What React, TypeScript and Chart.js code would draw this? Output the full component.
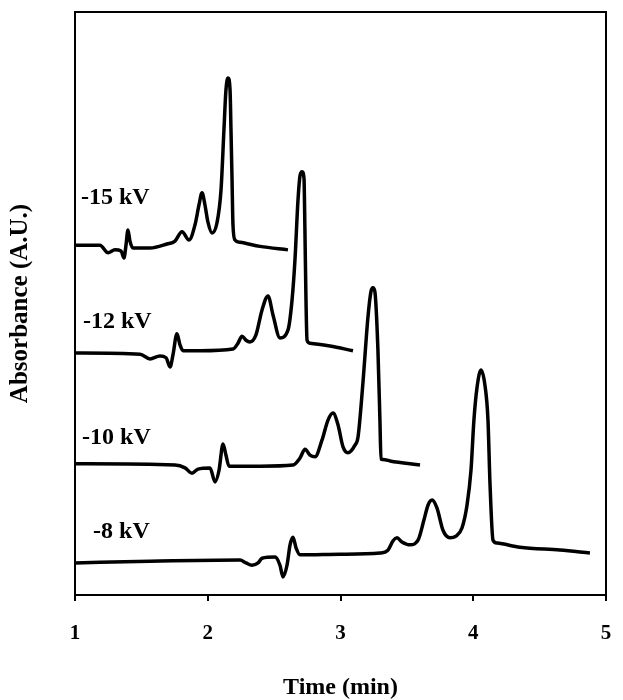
import React, { useEffect, useRef } from "react";
import { Chart, registerables } from "chart.js";

Chart.register(...registerables);

// Time (min) and absorbance (A.U., arbitrary offset units) for each trace
const time15 = [1.0, 1.188, 1.249, 1.301, 1.347, 1.369, 1.384, 1.399, 1.414, 1.437, 1.565, 1.693, 1.753, 1.806, 1.859, 1.904, 1.934, 1.957, 1.979, 2.002, 2.032, 2.07, 2.1, 2.122, 2.137, 2.153, 2.168, 2.175, 2.183, 2.19, 2.205, 2.243, 2.394, 2.604];
const abs15 = [60.0, 60.0, 58.7, 59.2, 59.0, 57.8, 60.0, 62.6, 60.7, 59.5, 59.5, 60.2, 60.7, 62.3, 60.9, 63.5, 66.9, 69.0, 66.9, 63.9, 62.1, 63.9, 69.5, 79.8, 86.6, 88.7, 86.6, 79.8, 71.2, 63.5, 60.9, 60.5, 59.8, 59.2];

const time12 = [1.0, 1.49, 1.565, 1.64, 1.686, 1.716, 1.738, 1.768, 1.791, 1.814, 1.942, 2.19, 2.228, 2.258, 2.288, 2.318, 2.363, 2.409, 2.454, 2.492, 2.544, 2.605, 2.635, 2.657, 2.68, 2.695, 2.71, 2.725, 2.732, 2.74, 2.748, 2.77, 2.921, 3.094];
const abs12 = [41.5, 41.3, 40.5, 41.0, 40.7, 39.1, 41.2, 44.8, 42.9, 41.9, 41.9, 42.2, 43.2, 44.4, 43.7, 43.4, 44.6, 48.9, 51.3, 48.0, 44.1, 45.5, 50.6, 57.5, 67.8, 71.9, 72.6, 71.5, 62.6, 50.6, 43.7, 43.2, 42.7, 41.9];

const time10 = [1.0, 1.753, 1.829, 1.881, 1.927, 2.017, 2.055, 2.085, 2.115, 2.137, 2.16, 2.394, 2.642, 2.695, 2.733, 2.77, 2.808, 2.861, 2.906, 2.944, 2.981, 3.019, 3.056, 3.109, 3.132, 3.169, 3.207, 3.229, 3.244, 3.259, 3.282, 3.297, 3.305, 3.335, 3.373, 3.599];
const abs10 = [22.5, 22.3, 21.8, 20.9, 21.6, 21.8, 19.4, 21.4, 25.9, 24.0, 22.1, 22.1, 22.3, 23.5, 25.0, 24.0, 23.7, 26.6, 30.0, 31.2, 29.2, 25.4, 24.4, 25.7, 27.1, 36.4, 47.7, 52.0, 52.7, 52.0, 42.0, 30.0, 23.3, 23.2, 23.0, 22.3];

const time8 = [1.0, 1.565, 2.243, 2.288, 2.333, 2.379, 2.409, 2.507, 2.544, 2.567, 2.597, 2.62, 2.642, 2.665, 2.695, 2.996, 3.298, 3.358, 3.396, 3.426, 3.463, 3.524, 3.584, 3.629, 3.659, 3.69, 3.727, 3.772, 3.825, 3.87, 3.915, 3.953, 3.983, 4.005, 4.028, 4.058, 4.088, 4.111, 4.126, 4.149, 4.179, 4.352, 4.653, 4.879];
const abs8 = [5.5, 5.8, 6.0, 5.5, 5.1, 5.5, 6.3, 6.5, 5.1, 3.1, 5.1, 8.6, 9.9, 8.1, 6.9, 7.0, 7.2, 7.7, 9.3, 9.8, 9.1, 8.6, 9.4, 12.9, 15.4, 16.3, 14.9, 11.1, 9.8, 10.1, 11.5, 15.4, 21.4, 30.0, 35.5, 38.6, 36.0, 30.0, 19.2, 9.4, 8.9, 8.2, 7.7, 7.2];

const seriesNames = ["-15 kV", "-12 kV", "-10 kV", "-8 kV"];
const seriesTimes = [time15, time12, time10, time8];
const seriesAbs = [abs15, abs12, abs10, abs8];

// label anchor (time, absorbance) for each trace name
const labelTime = [1.045, 1.06, 1.053, 1.136];
const labelAbs = [68.1, 46.8, 26.9, 10.8];

const xTicks = [1, 2, 3, 4, 5];

const FONT = "'Liberation Serif', 'Times New Roman', serif";

const boxPlugin = {
  id: "boxAndLabels",
  afterDatasetsDraw(chart: any) {
    const { ctx, chartArea, scales } = chart;
    ctx.save();
    ctx.strokeStyle = "#000";
    ctx.lineWidth = 2;
    ctx.strokeRect(chartArea.left, chartArea.top, chartArea.right - chartArea.left, chartArea.bottom - chartArea.top);
    ctx.fillStyle = "#000";
    ctx.font = `bold 24px ${FONT}`;
    ctx.textAlign = "left";
    ctx.textBaseline = "middle";
    seriesNames.forEach((name, i) => {
      const x = scales.x.getPixelForValue(labelTime[i]);
      const y = scales.y.getPixelForValue(labelAbs[i]);
      ctx.fillText(name, x, y);
    });
    ctx.restore();
  },
};

export default function App() {
  const ref = useRef<HTMLCanvasElement | null>(null);
  useEffect(() => {
    if (!ref.current) return;
    const datasets = seriesNames.map((name, i) => ({
      label: name,
      data: seriesTimes[i].map((t, j) => ({ x: t, y: seriesAbs[i][j] })),
      borderColor: "#000",
      borderWidth: 3.5,
      pointRadius: 0,
      fill: false,
      cubicInterpolationMode: "monotone" as const,
    }));
    const chart = new Chart(ref.current, {
      type: "line",
      data: { datasets },
      options: {
        animation: false,
        responsive: false,
        maintainAspectRatio: false,
        layout: { padding: { top: 12, right: 17, left: 0, bottom: 0 } },
        plugins: { legend: { display: false }, tooltip: { enabled: false } },
        scales: {
          x: {
            type: "linear",
            min: 1,
            max: 5,
            afterBuildTicks: (scale: any) => {
              scale.ticks = xTicks.map((v) => ({ value: v }));
            },
            afterFit: (scale: any) => {
              scale.height = 105;
              scale.paddingLeft = 0;
              scale.paddingRight = 0;
            },
            ticks: {
              color: "#000",
              font: { family: FONT, size: 21, weight: "bold" },
              padding: 20,
              maxRotation: 0,
            },
            grid: {
              display: true,
              drawOnChartArea: false,
              drawTicks: true,
              tickLength: 6,
              color: "#000",
              lineWidth: 2,
            },
            border: { display: true, color: "#000", width: 2 },
            title: {
              display: true,
              text: "Time (min)",
              color: "#000",
              font: { family: FONT, size: 24, weight: "bold", lineHeight: 1 },
              padding: { top: 0, bottom: 0 },
            },
          },
          y: {
            type: "linear",
            min: 0,
            max: 100,
            afterFit: (scale: any) => {
              scale.width = 75;
              scale.paddingTop = 0;
              scale.paddingBottom = 0;
            },
            ticks: { display: false },
            grid: { display: false },
            border: { display: true, color: "#000", width: 2 },
            title: {
              display: true,
              text: "Absorbance (A.U.)",
              color: "#000",
              font: { family: FONT, size: 25, weight: "bold", lineHeight: 1 },
              padding: { top: 8, bottom: 0 },
            },
          },
        },
      },
      plugins: [boxPlugin],
    });
    return () => chart.destroy();
  }, []);
  return (
    <div style={{ position: "absolute", left: 0, top: 0, width: 623, height: 700, background: "#fff" }}>
      <canvas ref={ref} width={623} height={700} style={{ display: "block" }} />
    </div>
  );
}
